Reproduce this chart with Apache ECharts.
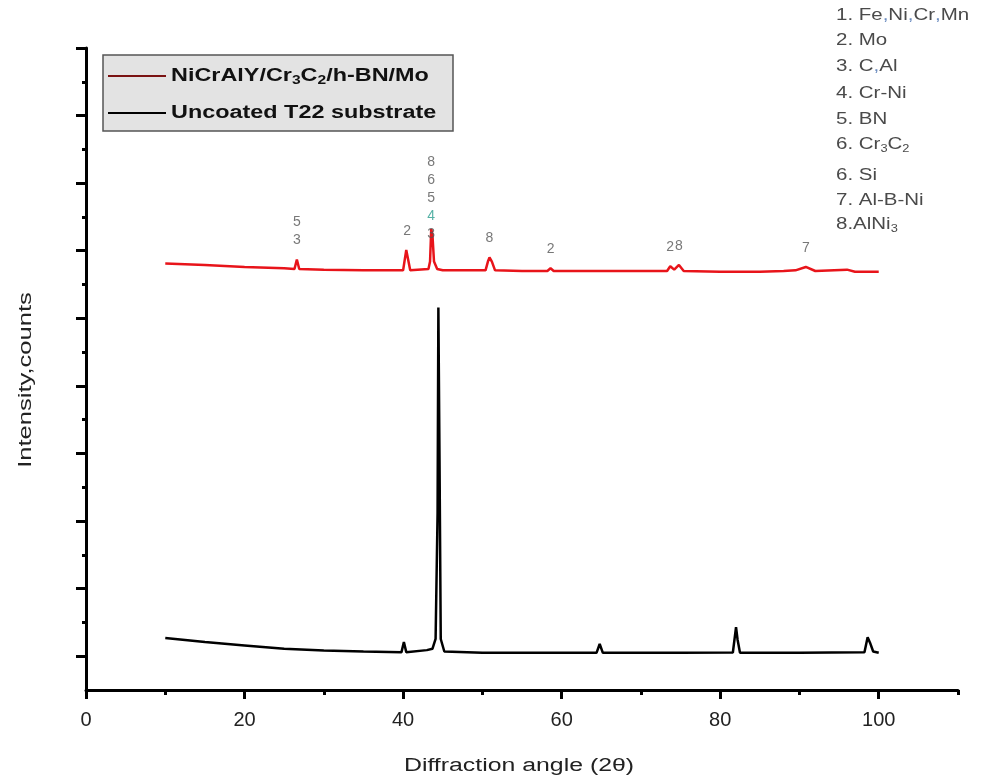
<!DOCTYPE html>
<html>
<head>
<meta charset="utf-8">
<script src="https://cdn.jsdelivr.net/npm/echarts@6/dist/echarts.min.js"></script>
<style>
html,body{margin:0;padding:0;background:#fff;}
#chart{width:988px;height:781px;}
</style>
</head>
<body>
<div id="chart"></div>
<script>
// ---- data ----
const coatedX = [10,15,20,25,26.3,26.6,26.9,30,35,40.0,40.4,40.6,40.9,43.2,43.4,43.55,43.7,43.9,44.3,45,50.4,50.7,50.9,51.2,51.6,55,58.2,58.6,59,65,70,73.3,73.7,74.2,74.8,75.4,80,85,88,89.5,90.8,92,96,97,100];
const coatedY = [6.31,6.29,6.26,6.24,6.23,6.37,6.23,6.22,6.21,6.21,6.51,6.50,6.21,6.23,6.34,6.82,6.74,6.34,6.23,6.21,6.21,6.34,6.40,6.34,6.21,6.20,6.20,6.24,6.20,6.20,6.20,6.20,6.27,6.22,6.29,6.20,6.19,6.19,6.20,6.21,6.26,6.20,6.22,6.19,6.19];
const substrateX = [10,15,20,25,30,35,39.8,40.1,40.4,43,43.7,44.1,44.35,44.45,44.6,44.75,45.2,50,55,60,64.4,64.8,65.2,70,75,81.6,82.0,82.2,82.5,90,98.2,98.6,98.9,99.3,100];
const substrateY = [0.77,0.71,0.66,0.61,0.585,0.57,0.56,0.71,0.56,0.59,0.61,0.755,2.62,5.66,3.33,0.755,0.57,0.55,0.55,0.55,0.55,0.68,0.55,0.55,0.55,0.555,0.93,0.74,0.55,0.55,0.56,0.78,0.70,0.57,0.55];
const peakX = [26.6,40.5,43.55,50.9,58.6,73.7,74.8,90.8];
const peakLabels = ['5\n3','2','8\n6\n5\n{g|4}\n3','8','2','2','8','7'];
const xMajorTicks = [0,20,40,60,80,100];
const xMinorTicks = [10,30,50,70,90,110];
const yMajorTicks = [0.5,1.5,2.5,3.5,4.5,5.5,6.5,7.5,8.5,9.5];
const yMinorTicks = [1,2,3,4,5,6,7,8,9];
const seriesNames = ['NiCrAlY/Cr3C2/h-BN/Mo','Uncoated T22 substrate'];
const xTitle = 'Diffraction angle (2θ)';
const yTitle = 'Intensity,counts';
const phaseList = ['1. Fe,Ni,Cr,Mn','2. Mo','3. C,Al','4. Cr-Ni','5. BN','6. Cr3C2','6. Si','7. Al-B-Ni','8.AlNi3'];

// ---- build ----
const zip = (xs, ys) => xs.map((x, i) => [x, ys[i]]);
const coated = zip(coatedX, coatedY);
const substrate = zip(substrateX, substrateY);
function lookup(x) {
  let best = 0, bd = 1e9;
  coatedX.forEach((v, i) => { const d = Math.abs(v - x); if (d < bd) { bd = d; best = i; } });
  let m = coatedY[best];
  for (let k = Math.max(0,best-1); k <= Math.min(coatedY.length-1,best+1); k++) m = Math.max(m, coatedY[k]);
  return m;
}
const annData = peakX.map((x, i) => ({
  value: [x, lookup(x)],
  t: peakLabels[i],
  label: i === 2 ? { offset: [0, 24] } : {}
}));

const FONT = 'Liberation Sans, Arial, sans-serif';
const subFmt = s => s.replace(/Cr3C2/g, 'Cr{s|3}C{s|2}').replace(/AlNi3/g, 'AlNi{s|3}').replace(/,/g, '{c|,}');
const legendFmt = s => s.replace(/Cr3C2/g, 'Cr{s|3}C{s|2}');

const legendColors = ['#7a1212', '#000000'];
const legendGraphics = [
  { type: 'rect', shape: { x: 103, y: 55, width: 350, height: 76 },
    style: { fill: '#e3e3e3', stroke: '#555', lineWidth: 1.5 }, z: 10 }
];
seriesNames.forEach((n, i) => {
  const yy = 76 + i * 37;
  legendGraphics.push({ type: 'line', shape: { x1: 108, y1: yy, x2: 166, y2: yy },
    style: { stroke: legendColors[i], lineWidth: 2 }, z: 11 });
  legendGraphics.push({ type: 'text', x: 171, y: yy, scaleX: 1.3, z: 11,
    style: { text: legendFmt(n), fontSize: 18, fontWeight: 'bold', fill: '#111', fontFamily: FONT,
      textVerticalAlign: 'middle',
      rich: { s: { fontSize: 12, fontWeight: 'bold', fill: '#111', padding: [9, 0, 0, 0], fontFamily: FONT } } } });
});

const phaseGraphics = phaseList.map((t, i) => ({
  type: 'text', x: 836, y: [16, 41, 67, 94, 120, 145, 176, 201, 225][i], scaleX: 1.28,
  style: {
    text: subFmt(t), fontSize: 16, fill: '#4a4a4a', fontFamily: FONT, textVerticalAlign: 'middle',
    rich: {
      s: { fontSize: 10, fill: '#4a4a4a', padding: [8, 0, 0, 0], fontFamily: FONT },
      c: { fontSize: 16, fill: '#6b8cc0', fontFamily: FONT }
    }
  }
}));

const titleGraphics = [
  { type: 'text', x: 519, y: 766, scaleX: 1.38,
    style: { text: xTitle, fontSize: 18, fill: '#222', fontFamily: FONT, textAlign: 'center', textVerticalAlign: 'middle' } },
  { type: 'text', x: 26, y: 380, rotation: Math.PI / 2, scaleX: 1.42,
    style: { text: yTitle, fontSize: 18, fill: '#222', fontFamily: FONT, textAlign: 'center', textVerticalAlign: 'middle' } }
];

const chart = echarts.init(document.getElementById('chart'), null, { renderer: 'canvas' });
chart.setOption({
  backgroundColor: '#ffffff',
  animation: false,
  textStyle: { fontFamily: FONT },
  grid: { left: 86, right: 30, top: 48, bottom: 91, containLabel: false },
  xAxis: [{
    type: 'value', min: 0, max: 110, interval: 10,
    axisLine: { show: true, lineStyle: { color: '#000', width: 3 } },
    axisTick: { show: true, customValues: xMajorTicks, length: 9, lineStyle: { color: '#000', width: 3 } },
    axisLabel: { customValues: xMajorTicks, fontSize: 20, color: '#222', margin: 20, fontFamily: FONT },
    splitLine: { show: false }
  }, {
    type: 'value', min: 0, max: 110, interval: 10, position: 'bottom',
    axisLine: { show: false },
    axisTick: { show: true, customValues: xMinorTicks, length: 5, lineStyle: { color: '#000', width: 3 } },
    axisLabel: { show: false }, splitLine: { show: false }
  }],
  yAxis: [{
    type: 'value', min: 0, max: 9.5, interval: 0.5,
    axisLine: { show: true, lineStyle: { color: '#000', width: 3 } },
    axisTick: { show: true, customValues: yMajorTicks, length: 10, lineStyle: { color: '#000', width: 3 } },
    axisLabel: { show: false }, splitLine: { show: false }
  }, {
    type: 'value', min: 0, max: 9.5, interval: 0.5, position: 'left',
    axisLine: { show: false },
    axisTick: { show: true, customValues: yMinorTicks, length: 4, lineStyle: { color: '#000', width: 3 } },
    axisLabel: { show: false }, splitLine: { show: false }
  }],
  graphic: legendGraphics.concat(phaseGraphics, titleGraphics),
  series: [{
    name: seriesNames[0], type: 'line', data: coated, showSymbol: false, symbol: 'none',
    lineStyle: { color: '#e8141a', width: 2.5 }, itemStyle: { color: '#e8141a' }, z: 3
  }, {
    name: seriesNames[1], type: 'line', data: substrate, showSymbol: false, symbol: 'none',
    lineStyle: { color: '#000', width: 2.5 }, itemStyle: { color: '#000' }, z: 3
  }, {
    name: 'peaks', type: 'scatter', data: annData, symbolSize: 0, silent: true, z: 4,
    label: {
      show: true, position: 'top', distance: 10,
      formatter: p => p.data.t,
      fontSize: 14, lineHeight: 18, color: '#555', fontFamily: FONT,
      rich: { g: { color: '#2a9d8f', fontSize: 14, lineHeight: 18, fontFamily: FONT } }
    }
  }]
});
</script>
</body>
</html>
